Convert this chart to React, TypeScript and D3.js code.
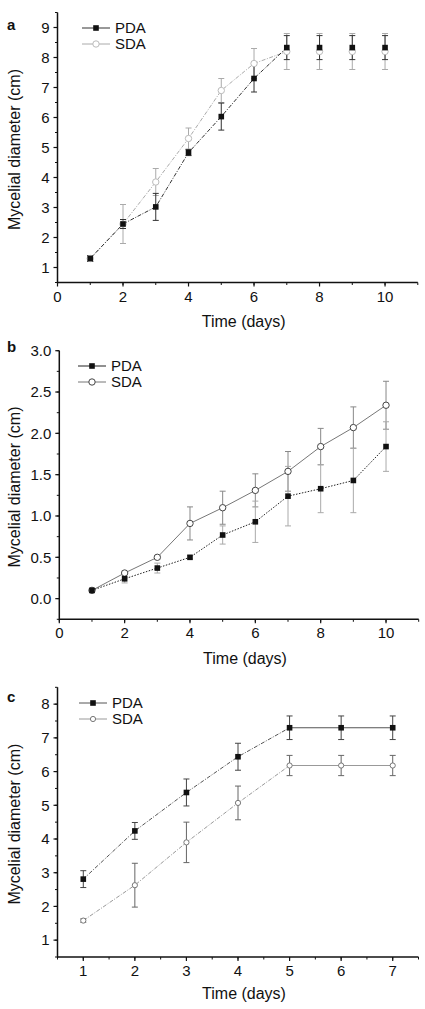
import * as d3 from 'd3';
import React from 'react';

// panel a
const daysA = [1, 2, 3, 4, 5, 6, 7, 8, 9, 10];
const pdaA = [1.3, 2.45, 3.02, 4.83, 6.03, 7.3, 8.33, 8.33, 8.33, 8.33];
const sdaA = [1.3, 2.45, 3.85, 5.3, 6.9, 7.8, 8.2, 8.2, 8.2, 8.2];
const pdaErrA = [0.1, 0.15, 0.45, 0.1, 0.45, 0.45, 0.4, 0.4, 0.4, 0.4];
const sdaErrA = [0.1, 0.65, 0.45, 0.35, 0.4, 0.5, 0.6, 0.6, 0.6, 0.6];
const xTicksA = [0, 2, 4, 6, 8, 10];
const yTicksA = [1, 2, 3, 4, 5, 6, 7, 8, 9];

// panel b
const daysB = [1, 2, 3, 4, 5, 6, 7, 8, 9, 10];
const pdaB = [0.1, 0.24, 0.37, 0.5, 0.77, 0.93, 1.24, 1.33, 1.43, 1.84];
const sdaB = [0.1, 0.31, 0.5, 0.91, 1.1, 1.31, 1.54, 1.84, 2.07, 2.34];
const pdaErrB = [0.02, 0.05, 0.06, 0.02, 0.11, 0.25, 0.36, 0.29, 0.39, 0.3];
const sdaErrB = [0.02, 0.02, 0.02, 0.2, 0.2, 0.2, 0.24, 0.22, 0.25, 0.29];
const xTicksB = [0, 2, 4, 6, 8, 10];
const yTicksB = [0, 0.5, 1, 1.5, 2, 2.5, 3];

// panel c
const daysC = [1, 2, 3, 4, 5, 6, 7];
const pdaC = [2.81, 4.24, 5.38, 6.44, 7.3, 7.3, 7.3];
const sdaC = [1.58, 2.63, 3.9, 5.07, 6.18, 6.18, 6.18];
const pdaErrC = [0.25, 0.25, 0.4, 0.4, 0.35, 0.35, 0.35];
const sdaErrC = [0.05, 0.65, 0.6, 0.5, 0.3, 0.3, 0.3];
const xTicksC = [1, 2, 3, 4, 5, 6, 7];
const yTicksC = [1, 2, 3, 4, 5, 6, 7, 8];

const seriesNames = ['PDA', 'SDA'];
const font = 'Liberation Sans, Arial, Helvetica, sans-serif';

type Style = { line: string; dash: string; err: string; marker: string; r: number };

function Panel(p: {
  label: string;
  days: number[];
  pda: number[];
  sda: number[];
  pdaErr: number[];
  sdaErr: number[];
  xDomain: [number, number];
  xRange: [number, number];
  yDomain: [number, number];
  yRange: [number, number];
  xTicks: number[];
  xMinorStep: number;
  yTicks: number[];
  yMinorStep: number;
  yFmt: (v: number) => string;
  lineUntil: number;
  solidFrom: number;
  pdaStyle: Style;
  sdaStyle: Style;
  legendX: number;
  legendY: number;
  labelY: number;
  titleY: number;
}) {
  const x = d3.scaleLinear().domain(p.xDomain).range(p.xRange);
  const y = d3.scaleLinear().domain(p.yDomain).range(p.yRange);
  const x0 = p.xRange[0];
  const yb = p.yRange[0];
  const line = d3
    .line<[number, number]>()
    .x(d => x(d[0]))
    .y(d => y(d[1]));

  const xMinor = d3.range(p.xDomain[0], p.xDomain[1] + 1e-6, p.xMinorStep);
  const yMinor = d3.range(
    Math.ceil(p.yDomain[0] / p.yMinorStep) * p.yMinorStep,
    p.yDomain[1] + 1e-6,
    p.yMinorStep
  );

  const series = [
    { vals: p.sda, err: p.sdaErr, st: p.sdaStyle, kind: 'circle' },
    { vals: p.pda, err: p.pdaErr, st: p.pdaStyle, kind: 'square' },
  ];

  const marker = (kind: string, st: Style, cx: number, cy: number, key: string) =>
    kind === 'square' ? (
      <rect key={key} x={cx - 2.8} y={cy - 2.8} width={5.6} height={5.6} fill={st.marker} />
    ) : (
      <circle key={key} cx={cx} cy={cy} r={st.r} fill="#fff" stroke={st.marker} strokeWidth={1} />
    );

  return (
    <g fontFamily={font}>
      {series.map((s, si) => {
        const pts = p.days.map((d, i) => [d, s.vals[i]] as [number, number]);
        const rising = pts.filter(d => d[0] <= Math.min(p.solidFrom, p.lineUntil));
        const flat = pts.filter(d => d[0] >= p.solidFrom && d[0] <= p.lineUntil);
        return (
          <g key={'l' + si}>
            <path d={line(rising) || ''} fill="none" stroke={s.st.line} strokeWidth={1} strokeDasharray={s.st.dash} />
            {flat.length > 1 && (
              <path d={line(flat) || ''} fill="none" stroke={s.st.line} strokeWidth={1} />
            )}
          </g>
        );
      })}
      {series.map((s, si) =>
        p.days.map((d, i) => {
          const cx = x(d);
          const t = y(s.vals[i] + s.err[i]);
          const b = y(s.vals[i] - s.err[i]);
          return (
            <g key={'e' + si + i} stroke={s.st.err} strokeWidth={1}>
              <line x1={cx} x2={cx} y1={t} y2={b} />
              <line x1={cx - 3} x2={cx + 3} y1={t} y2={t} />
              <line x1={cx - 3} x2={cx + 3} y1={b} y2={b} />
            </g>
          );
        })
      )}
      {series.map((s, si) => p.days.map((d, i) => marker(s.kind, s.st, x(d), y(s.vals[i]), 'm' + si + i)))}

      {/* axes */}
      <line x1={x0} x2={x0} y1={yb + 0.7} y2={p.yRange[1]} stroke="#111" strokeWidth={1.5} />
      <line x1={x0} x2={p.xRange[1]} y1={yb} y2={yb} stroke="#111" strokeWidth={1.5} />
      {xMinor.map(v => (
        <line key={'xm' + v} x1={x(v)} x2={x(v)} y1={yb} y2={yb + 2.5} stroke="#111" strokeWidth={1} />
      ))}
      {p.xTicks.map(v => (
        <g key={'xt' + v}>
          <line x1={x(v)} x2={x(v)} y1={yb} y2={yb + 4} stroke="#111" strokeWidth={1.2} />
          <text x={x(v)} y={yb + 19} textAnchor="middle" fontSize={15} fill="#111">
            {v}
          </text>
        </g>
      ))}
      {yMinor.map(v => (
        <line key={'ym' + v} x1={x0} x2={x0 - 2.5} y1={y(v)} y2={y(v)} stroke="#111" strokeWidth={1} />
      ))}
      {p.yTicks.map(v => (
        <g key={'yt' + v}>
          <line x1={x0} x2={x0 - 4} y1={y(v)} y2={y(v)} stroke="#111" strokeWidth={1.2} />
          <text x={x0 - 8} y={y(v) + 5.3} textAnchor="end" fontSize={15} fill="#111">
            {p.yFmt(v)}
          </text>
        </g>
      ))}

      {/* legend */}
      {seriesNames.map((n, i) => {
        const st = i === 0 ? p.pdaStyle : p.sdaStyle;
        const ly = p.legendY + i * 16;
        return (
          <g key={'lg' + n}>
            <line x1={p.legendX} x2={p.legendX + 28} y1={ly} y2={ly} stroke={st.line} strokeWidth={1} />
            {marker(i === 0 ? 'square' : 'circle', st, p.legendX + 14, ly, 'lm' + n)}
            <text x={p.legendX + 33} y={ly + 5.3} fontSize={15} fill="#111">
              {n}
            </text>
          </g>
        );
      })}

      <text x={7} y={p.labelY} fontSize={15} fontWeight="bold" fill="#111">
        {p.label}
      </text>
      <text
        transform={`translate(20,${(p.yRange[0] + p.yRange[1]) / 2 + 2}) rotate(-90)`}
        textAnchor="middle"
        fontSize={16}
        fill="#111"
      >
        Mycelial diameter (cm)
      </text>
      <text x={(p.xRange[0] + p.xRange[1]) / 2 + 6} y={p.titleY} textAnchor="middle" fontSize={16} fill="#111">
        Time (days)
      </text>
    </g>
  );
}

export default function App() {
  return (
    <svg
      width={425}
      height={1009}
      style={{ position: 'absolute', left: 0, top: 0, background: '#fff' }}
    >
      <Panel
        label="a"
        days={daysA}
        pda={pdaA}
        sda={sdaA}
        pdaErr={pdaErrA}
        sdaErr={sdaErrA}
        xDomain={[0, 11]}
        xRange={[57.5, 417.8]}
        yDomain={[0.5, 9.5]}
        yRange={[282.5, 12.5]}
        xTicks={xTicksA}
        xMinorStep={1}
        yTicks={yTicksA}
        yMinorStep={0.5}
        yFmt={d3.format('d')}
        lineUntil={7}
        solidFrom={99}
        pdaStyle={{ line: '#333', dash: '4,1.5,1,1.5', err: '#333', marker: '#111', r: 3.2 }}
        sdaStyle={{ line: '#aaa', dash: '4,1.5,1,1.5', err: '#aaa', marker: '#bbb', r: 3.2 }}
        legendX={82}
        legendY={28}
        labelY={30}
        titleY={327}
      />
      <Panel
        label="b"
        days={daysB}
        pda={pdaB}
        sda={sdaB}
        pdaErr={pdaErrB}
        sdaErr={sdaErrB}
        xDomain={[0, 11]}
        xRange={[59.3, 418.7]}
        yDomain={[-0.25, 3]}
        yRange={[619.3, 350.7]}
        xTicks={xTicksB}
        xMinorStep={1}
        yTicks={yTicksB}
        yMinorStep={0.25}
        yFmt={d3.format('.1f')}
        lineUntil={10}
        solidFrom={99}
        pdaStyle={{ line: '#222', dash: '1.5,1.5', err: '#aaa', marker: '#111', r: 3.2 }}
        sdaStyle={{ line: '#777', dash: '', err: '#888', marker: '#444', r: 3.2 }}
        legendX={78}
        legendY={366}
        labelY={352}
        titleY={664}
      />
      <Panel
        label="c"
        days={daysC}
        pda={pdaC}
        sda={sdaC}
        pdaErr={pdaErrC}
        sdaErr={sdaErrC}
        xDomain={[0.5, 7.5]}
        xRange={[57.5, 418.5]}
        yDomain={[0.5, 8.5]}
        yRange={[957, 687.3]}
        xTicks={xTicksC}
        xMinorStep={0.5}
        yTicks={yTicksC}
        yMinorStep={0.5}
        yFmt={d3.format('d')}
        lineUntil={7}
        solidFrom={5}
        pdaStyle={{ line: '#555', dash: '4,1.5,1,1.5', err: '#444', marker: '#111', r: 3 }}
        sdaStyle={{ line: '#999', dash: '4,1.5,1,1.5', err: '#666', marker: '#777', r: 2.6 }}
        legendX={79}
        legendY={703}
        labelY={702}
        titleY={999}
      />
    </svg>
  );
}
